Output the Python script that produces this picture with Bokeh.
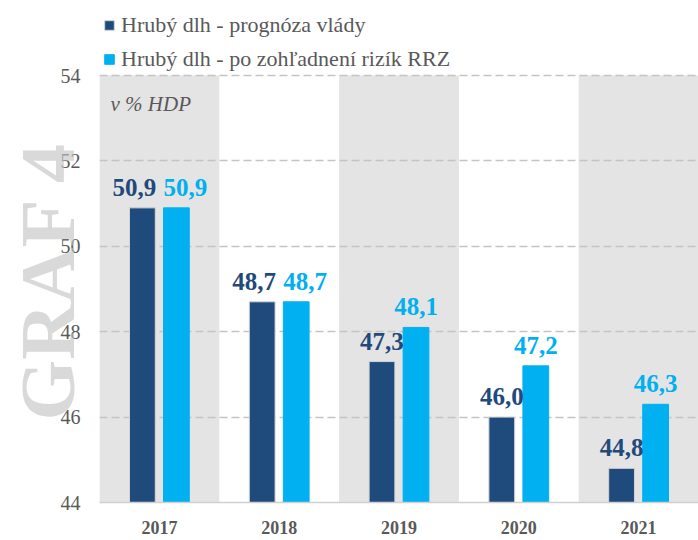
from bokeh.plotting import figure
from bokeh.models import (FactorRange, FixedTicker, Label, Legend, LegendItem,
                          ColumnDataSource, Range1d, LinearAxis)
from bokeh.transform import dodge
from bokeh.core.properties import value
from bokeh.embed import file_html
from bokeh.resources import INLINE

# ---------------- data ----------------
years = ["2017", "2018", "2019", "2020", "2021"]
gov_forecast = [50.9, 48.7, 47.3, 46.0, 44.8]
rrz_adjusted = [50.9, 48.7, 48.1, 47.2, 46.3]
y_ticks = [44, 46, 48, 50, 52, 54]
shaded_years = ["2017", "2019", "2021"]
series_names = ["Hrubý dlh - prognóza vlády", "Hrubý dlh - po zohľadnení rizík RRZ"]
unit_note = "v % HDP"
watermark = "GRAF 4"

# ---------------- styles / layout ----------------
DARK = "#1F4A7C"
LIGHT = "#00B0F0"
BAND = "#E4E4E4"
TXT = "#595959"
FONT = "Liberation Serif"
Y0, Y1 = y_ticks[0], y_ticks[-1]
W, H = 698, 540
BORDER_BOTTOM = 38
PLOT_TOP = 75            # pixel row of the top (54) gridline
FRAME_H = H - BORDER_BOTTOM
# the frame reaches the top of the canvas so the legend above the plot area is not clipped
y_end = Y1 + (Y1 - Y0) * PLOT_TOP / (FRAME_H - PLOT_TOP)


def fmt(v):
    return f"{v:.1f}".replace(".", ",")


# spread apart labels of equal-height bar pairs so they don't collide
gov_dx = [-8 if a == b else 0 for a, b in zip(gov_forecast, rrz_adjusted)]
rrz_dx = [9 if a == b else 0 for a, b in zip(gov_forecast, rrz_adjusted)]

src = ColumnDataSource(dict(
    year=years, gov=gov_forecast, rrz=rrz_adjusted,
    gov_lbl=[fmt(v) for v in gov_forecast], rrz_lbl=[fmt(v) for v in rrz_adjusted],
    gov_dx=gov_dx, rrz_dx=rrz_dx,
))

p = figure(width=W, height=H,
           x_range=FactorRange(*years, range_padding=0),
           y_range=Range1d(Y0, y_end),
           output_backend="svg", toolbar_location=None, title=None,
           min_border_left=94, min_border_right=0,
           min_border_top=0, min_border_bottom=BORDER_BOTTOM,
           background_fill_color="white", border_fill_color="white",
           outline_line_color=None)

# alternating shaded category bands
p.vbar(x=shaded_years, top=Y1, bottom=Y0, width=1, fill_color=BAND,
       line_color=None, level="image")

OFF = 0.142
BW = 0.215
r1 = p.vbar(x=dodge("year", -OFF, range=p.x_range), top="gov", bottom=Y0, width=BW,
            source=src, fill_color=DARK, line_color="#D4D4D4", line_width=1)
r2 = p.vbar(x=dodge("year", OFF, range=p.x_range), top="rrz", bottom=Y0, width=BW,
            source=src, fill_color=LIGHT, line_color=LIGHT, line_width=1)

p.text(x=dodge("year", -OFF, range=p.x_range), y="gov", text="gov_lbl", source=src,
       x_offset="gov_dx", y_offset=-12, text_align="center", text_baseline="bottom",
       text_font=value(FONT), text_font_style="bold", text_font_size="25px",
       text_color=DARK)
p.text(x=dodge("year", OFF, range=p.x_range), y="rrz", text="rrz_lbl", source=src,
       x_offset="rrz_dx", y_offset=-12, text_align="center", text_baseline="bottom",
       text_font=value(FONT), text_font_style="bold", text_font_size="25px",
       text_color=LIGHT)

# axes
yax = p.yaxis[0]
yax.ticker = FixedTicker(ticks=y_ticks)
yax.axis_line_color = None
yax.major_tick_line_color = None
yax.minor_tick_line_color = None
yax.major_tick_out = 0
yax.major_tick_in = 0
yax.major_label_standoff = 19
yax.major_label_text_font = FONT
yax.major_label_text_font_size = "20px"
yax.major_label_text_color = TXT

xax = p.xaxis[0]
xax.axis_line_color = "#D0D0D0"
xax.axis_line_width = 1.5
xax.major_tick_line_color = None
xax.minor_tick_line_color = None
xax.major_tick_out = 0
xax.major_tick_in = 0
xax.major_label_standoff = 18
xax.major_label_text_font = FONT
xax.major_label_text_font_style = "bold"
xax.major_label_text_font_size = "18px"
xax.major_label_text_color = TXT

p.xgrid.grid_line_color = None
p.ygrid.ticker = FixedTicker(ticks=y_ticks)
p.ygrid.grid_line_color = "#C4C4C4"
p.ygrid.grid_line_dash = "8 4"
p.ygrid.grid_line_width = 1.5

# watermark: label of an outer, tick-less left axis; drawn last, semi-transparent so
# the tick labels show through (trailing no-break spaces nudge it down along the axis)
wm_axis = LinearAxis(ticker=FixedTicker(ticks=[]),
                     axis_label=watermark + "\u00a0" * 3,
                     axis_label_standoff=-33,
                     axis_label_text_font=FONT, axis_label_text_font_style="bold",
                     axis_label_text_font_size="78px", axis_label_text_color="#C2C2C2",
                     axis_label_text_alpha=0.62,
                     axis_line_color=None, major_tick_line_color=None,
                     minor_tick_line_color=None, major_tick_out=0, major_tick_in=0,
                     minor_tick_out=0, minor_tick_in=0,
                     major_label_text_font=FONT, major_label_text_color=TXT,
                     level="overlay")
p.add_layout(wm_axis, "left")

# unit note
p.add_layout(Label(x=11, y=399, x_units="screen", y_units="screen", text=unit_note,
                   text_align="left", text_baseline="alphabetic",
                   text_font=FONT, text_font_style="italic", text_font_size="21px",
                   text_color=TXT))

legend = Legend(items=[LegendItem(label=series_names[0], renderers=[r1]),
                       LegendItem(label=series_names[1], renderers=[r2])],
                location=(4, 426), orientation="vertical",
                glyph_width=12, glyph_height=12, label_standoff=6,
                label_text_font=FONT, label_text_font_size="22px",
                label_text_color=TXT, label_height=34, spacing=0,
                padding=0, margin=0, border_line_color=None,
                background_fill_alpha=0)
p.add_layout(legend, "center")

open("out.html", "w").write(file_html(p, INLINE))
